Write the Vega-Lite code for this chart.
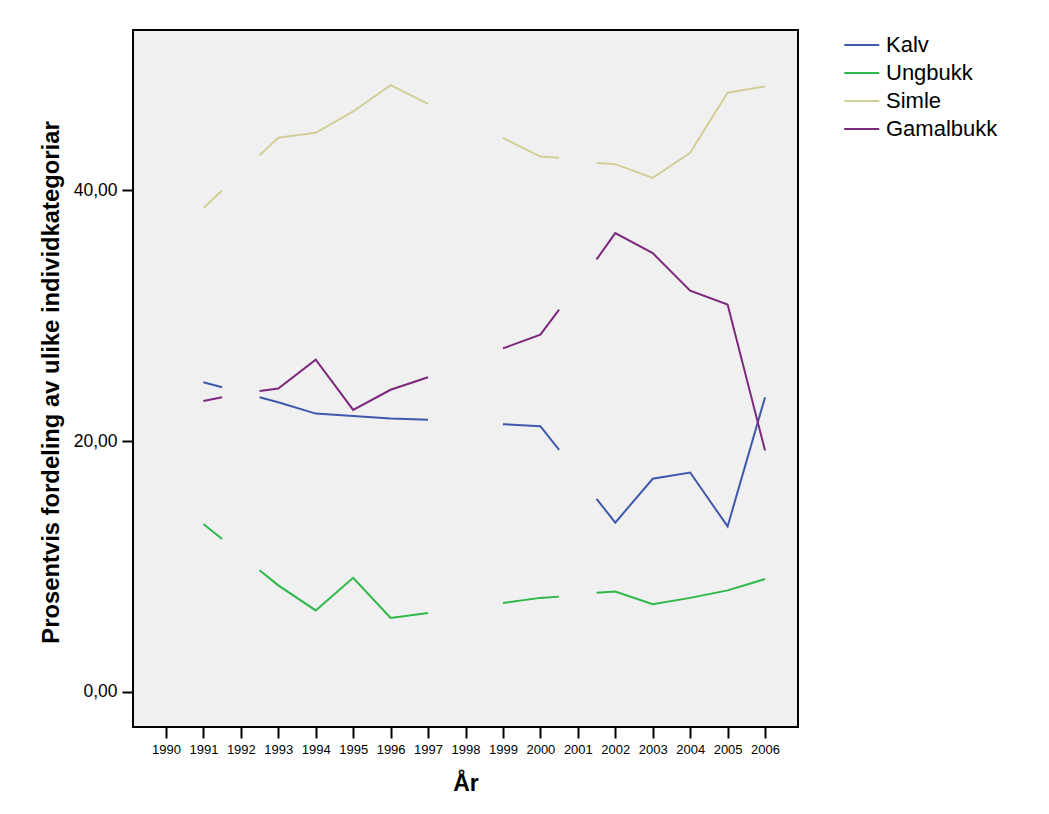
{
  "$schema": "https://vega.github.io/schema/vega-lite/v6.json",
  "autosize": "none",
  "width": 665,
  "height": 697,
  "padding": {"left": 133, "top": 30, "right": 251, "bottom": 87},
  "background": "white",
  "config": {
    "font": "Liberation Sans",
    "view": {"fill": "#F0F0F0", "stroke": "black", "strokeWidth": 2}
  },
  "data": {
    "values": [
      {"year": 1991, "value": 24.7, "cat": "Kalv", "seg": "A"},
      {"year": 1991.5, "value": 24.3, "cat": "Kalv", "seg": "A"},
      {"year": 1992.5, "value": 23.5, "cat": "Kalv", "seg": "B"},
      {"year": 1993, "value": 23.1, "cat": "Kalv", "seg": "B"},
      {"year": 1994, "value": 22.2, "cat": "Kalv", "seg": "B"},
      {"year": 1995, "value": 22.0, "cat": "Kalv", "seg": "B"},
      {"year": 1996, "value": 21.8, "cat": "Kalv", "seg": "B"},
      {"year": 1997, "value": 21.7, "cat": "Kalv", "seg": "B"},
      {"year": 1999, "value": 21.35, "cat": "Kalv", "seg": "C"},
      {"year": 2000, "value": 21.2, "cat": "Kalv", "seg": "C"},
      {"year": 2000.5, "value": 19.3, "cat": "Kalv", "seg": "C"},
      {"year": 2001.5, "value": 15.4, "cat": "Kalv", "seg": "D"},
      {"year": 2002, "value": 13.5, "cat": "Kalv", "seg": "D"},
      {"year": 2003, "value": 17.0, "cat": "Kalv", "seg": "D"},
      {"year": 2004, "value": 17.5, "cat": "Kalv", "seg": "D"},
      {"year": 2005, "value": 13.2, "cat": "Kalv", "seg": "D"},
      {"year": 2006, "value": 23.5, "cat": "Kalv", "seg": "D"},

      {"year": 1991, "value": 13.4, "cat": "Ungbukk", "seg": "A"},
      {"year": 1991.5, "value": 12.2, "cat": "Ungbukk", "seg": "A"},
      {"year": 1992.5, "value": 9.7, "cat": "Ungbukk", "seg": "B"},
      {"year": 1993, "value": 8.5, "cat": "Ungbukk", "seg": "B"},
      {"year": 1994, "value": 6.5, "cat": "Ungbukk", "seg": "B"},
      {"year": 1995, "value": 9.1, "cat": "Ungbukk", "seg": "B"},
      {"year": 1996, "value": 5.9, "cat": "Ungbukk", "seg": "B"},
      {"year": 1997, "value": 6.3, "cat": "Ungbukk", "seg": "B"},
      {"year": 1999, "value": 7.1, "cat": "Ungbukk", "seg": "C"},
      {"year": 2000, "value": 7.5, "cat": "Ungbukk", "seg": "C"},
      {"year": 2000.5, "value": 7.6, "cat": "Ungbukk", "seg": "C"},
      {"year": 2001.5, "value": 7.9, "cat": "Ungbukk", "seg": "D"},
      {"year": 2002, "value": 8.0, "cat": "Ungbukk", "seg": "D"},
      {"year": 2003, "value": 7.0, "cat": "Ungbukk", "seg": "D"},
      {"year": 2004, "value": 7.5, "cat": "Ungbukk", "seg": "D"},
      {"year": 2005, "value": 8.1, "cat": "Ungbukk", "seg": "D"},
      {"year": 2006, "value": 9.0, "cat": "Ungbukk", "seg": "D"},

      {"year": 1991, "value": 38.6, "cat": "Simle", "seg": "A"},
      {"year": 1991.5, "value": 40.0, "cat": "Simle", "seg": "A"},
      {"year": 1992.5, "value": 42.8, "cat": "Simle", "seg": "B"},
      {"year": 1993, "value": 44.2, "cat": "Simle", "seg": "B"},
      {"year": 1994, "value": 44.6, "cat": "Simle", "seg": "B"},
      {"year": 1995, "value": 46.3, "cat": "Simle", "seg": "B"},
      {"year": 1996, "value": 48.4, "cat": "Simle", "seg": "B"},
      {"year": 1997, "value": 46.9, "cat": "Simle", "seg": "B"},
      {"year": 1999, "value": 44.2, "cat": "Simle", "seg": "C"},
      {"year": 2000, "value": 42.7, "cat": "Simle", "seg": "C"},
      {"year": 2000.5, "value": 42.6, "cat": "Simle", "seg": "C"},
      {"year": 2001.5, "value": 42.2, "cat": "Simle", "seg": "D"},
      {"year": 2002, "value": 42.1, "cat": "Simle", "seg": "D"},
      {"year": 2003, "value": 41.0, "cat": "Simle", "seg": "D"},
      {"year": 2004, "value": 43.0, "cat": "Simle", "seg": "D"},
      {"year": 2005, "value": 47.8, "cat": "Simle", "seg": "D"},
      {"year": 2006, "value": 48.3, "cat": "Simle", "seg": "D"},

      {"year": 1991, "value": 23.2, "cat": "Gamalbukk", "seg": "A"},
      {"year": 1991.5, "value": 23.5, "cat": "Gamalbukk", "seg": "A"},
      {"year": 1992.5, "value": 24.0, "cat": "Gamalbukk", "seg": "B"},
      {"year": 1993, "value": 24.2, "cat": "Gamalbukk", "seg": "B"},
      {"year": 1994, "value": 26.5, "cat": "Gamalbukk", "seg": "B"},
      {"year": 1995, "value": 22.5, "cat": "Gamalbukk", "seg": "B"},
      {"year": 1996, "value": 24.1, "cat": "Gamalbukk", "seg": "B"},
      {"year": 1997, "value": 25.1, "cat": "Gamalbukk", "seg": "B"},
      {"year": 1999, "value": 27.4, "cat": "Gamalbukk", "seg": "C"},
      {"year": 2000, "value": 28.5, "cat": "Gamalbukk", "seg": "C"},
      {"year": 2000.5, "value": 30.5, "cat": "Gamalbukk", "seg": "C"},
      {"year": 2001.5, "value": 34.5, "cat": "Gamalbukk", "seg": "D"},
      {"year": 2002, "value": 36.6, "cat": "Gamalbukk", "seg": "D"},
      {"year": 2003, "value": 35.0, "cat": "Gamalbukk", "seg": "D"},
      {"year": 2004, "value": 32.0, "cat": "Gamalbukk", "seg": "D"},
      {"year": 2005, "value": 30.9, "cat": "Gamalbukk", "seg": "D"},
      {"year": 2006, "value": 19.25, "cat": "Gamalbukk", "seg": "D"}
    ]
  },
  "mark": {"type": "line", "strokeWidth": 2, "clip": true},
  "encoding": {
    "x": {
      "field": "year",
      "type": "quantitative",
      "scale": {"domain": [1989.12, 2006.88], "nice": false, "zero": false},
      "axis": {
        "title": "År",
        "values": [1990, 1991, 1992, 1993, 1994, 1995, 1996, 1997, 1998, 1999, 2000, 2001, 2002, 2003, 2004, 2005, 2006],
        "format": "d",
        "grid": false,
        "domain": false,
        "tickColor": "black",
        "tickWidth": 2,
        "tickSize": 11,
        "labelFontSize": 13,
        "labelColor": "black",
        "labelPadding": 5,
        "labelFlush": false,
        "labelOverlap": false,
        "titleFontSize": 23,
        "titleFontWeight": "bold",
        "titleColor": "black",
        "titlePadding": 16
      }
    },
    "y": {
      "field": "value",
      "type": "quantitative",
      "scale": {"domain": [-2.8, 52.8], "nice": false, "zero": false},
      "axis": {
        "title": "Prosentvis fordeling av ulike individkategoriar",
        "values": [0, 20, 40],
        "labelExpr": "replace(format(datum.value, '.2f'), '.', ',')",
        "grid": false,
        "domain": false,
        "tickColor": "black",
        "tickWidth": 2,
        "tickSize": 11,
        "labelFontSize": 17.5,
        "labelColor": "black",
        "labelPadding": 5,
        "titleFontSize": 23.8,
        "titleFontWeight": "bold",
        "titleColor": "black",
        "titlePadding": 10,
        "titleY": 352
      }
    },
    "color": {
      "field": "cat",
      "type": "nominal",
      "scale": {
        "domain": ["Kalv", "Ungbukk", "Simle", "Gamalbukk"],
        "range": ["#3E58AC", "#2EB848", "#D3CE97", "#7C287D"]
      },
      "legend": {
        "title": null,
        "orient": "none",
        "legendX": 709,
        "legendY": 4,
        "padding": 0,
        "symbolType": "M-1,0H3",
        "symbolSize": 306,
        "symbolStrokeWidth": 2,
        "labelFontSize": 22,
        "labelColor": "black",
        "labelOffset": 22,
        "rowPadding": 6
      }
    },
    "detail": {"field": "seg", "type": "nominal"}
  }
}
